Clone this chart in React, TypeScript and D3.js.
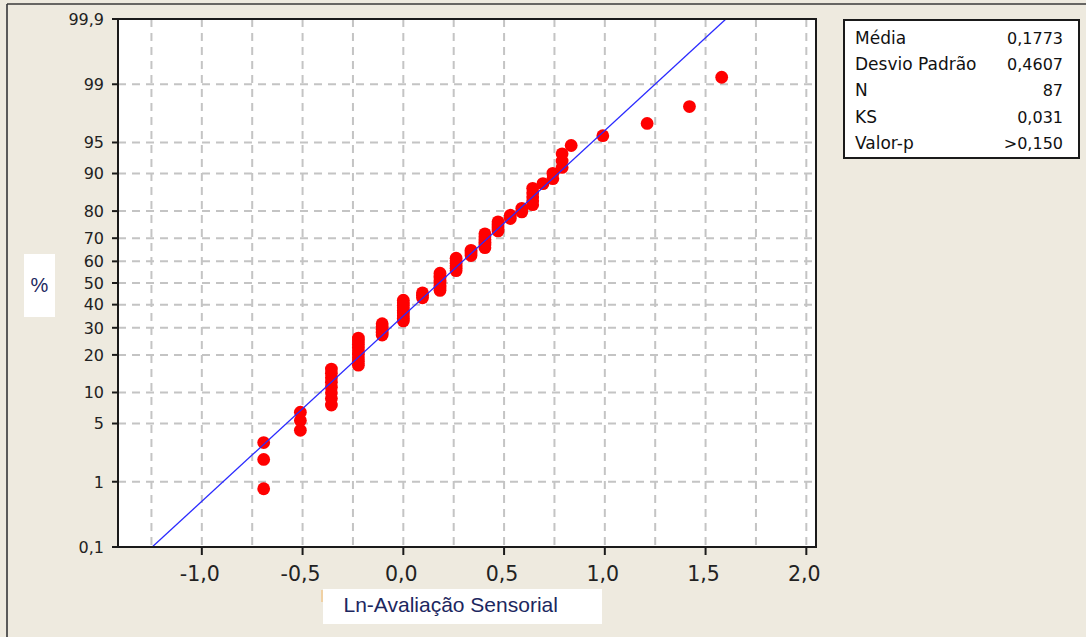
import React from "react";
import * as d3 from "d3";

// Distinct observed values (Ln of sensory score) and how many observations share each
const obsValues = [-0.693, -0.511, -0.357, -0.223, -0.105, 0, 0.095, 0.182, 0.262, 0.336, 0.405, 0.47, 0.531, 0.588, 0.642, 0.693, 0.742, 0.788, 0.833, 0.99, 1.21, 1.42, 1.58];
const obsCounts = [3, 3, 8, 9, 5, 9, 3, 8, 6, 3, 6, 4, 2, 2, 5, 1, 2, 3, 1, 1, 1, 1, 1];

const xTicks = [-1.0, -0.5, 0.0, 0.5, 1.0, 1.5, 2.0];
const xTickLabels = ["-1,0", "-0,5", "0,0", "0,5", "1,0", "1,5", "2,0"];
const xGrid = [-1.25, -1.0, -0.75, -0.5, -0.25, 0, 0.25, 0.5, 0.75, 1.0, 1.25, 1.5, 1.75, 2.0];
const yTicks = [0.1, 1, 5, 10, 20, 30, 40, 50, 60, 70, 80, 90, 95, 99, 99.9];
const yTickLabels = ["0,1", "1", "5", "10", "20", "30", "40", "50", "60", "70", "80", "90", "95", "99", "99,9"];

const statLabels = ["Média", "Desvio Padrão", "N", "KS", "Valor-p"];
const statValues = ["0,1773", "0,4607", "87", "0,031", ">0,150"];
const fitMean = 0.1773;
const fitSd = 0.4607;

// inverse standard normal CDF (Acklam)
function normInv(p: number): number {
  const a = [-3.969683028665376e1, 2.209460984245205e2, -2.759285104469687e2, 1.38357751867269e2, -3.066479806614716e1, 2.506628277459239];
  const b = [-5.447609879822406e1, 1.615858368580409e2, -1.556989798598866e2, 6.680131188771972e1, -1.328068155288572e1];
  const c = [-7.784894002430293e-3, -3.223964580411365e-1, -2.400758277161838, -2.549732539343734, 4.374664141464968, 2.938163982698783];
  const dd = [7.784695709041462e-3, 3.224671290700398e-1, 2.445134137142996, 3.754408661907416];
  const pl = 0.02425;
  if (p < pl) {
    const q = Math.sqrt(-2 * Math.log(p));
    return (((((c[0] * q + c[1]) * q + c[2]) * q + c[3]) * q + c[4]) * q + c[5]) / ((((dd[0] * q + dd[1]) * q + dd[2]) * q + dd[3]) * q + 1);
  }
  if (p > 1 - pl) {
    const q = Math.sqrt(-2 * Math.log(1 - p));
    return -(((((c[0] * q + c[1]) * q + c[2]) * q + c[3]) * q + c[4]) * q + c[5]) / ((((dd[0] * q + dd[1]) * q + dd[2]) * q + dd[3]) * q + 1);
  }
  const q = p - 0.5;
  const r = q * q;
  return (((((a[0] * r + a[1]) * r + a[2]) * r + a[3]) * r + a[4]) * r + a[5]) * q / (((((b[0] * r + b[1]) * r + b[2]) * r + b[3]) * r + b[4]) * r + 1);
}

const L = 118, T = 19, R = 816, B = 547;
const zMax = normInv(0.999);

export default function App() {
  const x = d3.scaleLinear().domain([-1.416, 2.048]).range([L, R]);
  const y = d3.scaleLinear().domain([-zMax, zMax]).range([B, T]);
  const yp = (pct: number) => y(normInv(pct / 100));

  // expand observations; plotting position = median rank (Benard)
  const obs: number[] = [];
  obsValues.forEach((v, k) => { for (let j = 0; j < obsCounts[k]; j++) obs.push(v); });
  const n = obs.length;
  const pts = obs.map((v, i) => ({ v, p: ((i + 1) - 0.3) / (n + 0.4) }));

  const lineGen = d3.line<number>().x((z) => x(fitMean + fitSd * z)).y((z) => y(z));
  const fitLine = lineGen([-zMax, zMax]);

  const grid = "#c4c4c4";
  const textFont = "'DejaVu Sans', Verdana, sans-serif";

  return (
    <svg width={1086} height={637} style={{ position: "absolute", left: 0, top: 0 }}>
      <defs>
        <clipPath id="plotclip"><rect x={L} y={T} width={R - L} height={B - T} /></clipPath>
      </defs>
      <rect x={0} y={0} width={1086} height={637} fill="#eeeadf" />
      <line x1={7} y1={4} x2={7} y2={637} stroke="#5a5a5a" strokeWidth={2} />
      <line x1={7} y1={4} x2={1086} y2={4} stroke="#3a3a3a" strokeWidth={1.5} />

      <rect x={L} y={T} width={R - L} height={B - T} fill="#ffffff" />
      {xGrid.map((g) => (
        <line key={"vx" + g} x1={x(g)} x2={x(g)} y1={T} y2={B} stroke={grid} strokeWidth={2} strokeDasharray="8,6" />
      ))}
      {yTicks.filter((t) => t > 0.1 && t < 99.9).map((t) => (
        <line key={"hy" + t} x1={L} x2={R} y1={yp(t)} y2={yp(t)} stroke={grid} strokeWidth={2} strokeDasharray="8,6" />
      ))}

      <g clipPath="url(#plotclip)">
        {pts.map((d, i) => (
          <circle key={i} cx={x(d.v)} cy={yp(d.p * 100)} r={6.4} fill="#ff0000" />
        ))}
        <path d={fitLine || ""} stroke="#2a2aff" strokeWidth={1.3} fill="none" />
      </g>

      <rect x={L} y={T} width={R - L} height={B - T} fill="none" stroke="#1a1a1a" strokeWidth={2} />

      {yTicks.map((t, i) => (
        <g key={"yt" + t}>
          <line x1={L - 6} x2={L} y1={yp(t)} y2={yp(t)} stroke="#1a1a1a" strokeWidth={2} />
          <text x={104} y={yp(t)} dy="0.36em" textAnchor="end" fontFamily={textFont} fontSize={16} fill="#222">{yTickLabels[i]}</text>
        </g>
      ))}
      {xTicks.map((t, i) => (
        <g key={"xt" + t}>
          <line x1={x(t)} x2={x(t)} y1={B} y2={B + 8} stroke="#1a1a1a" strokeWidth={2} />
          <text x={x(t) - 2} y={581} textAnchor="middle" fontFamily={textFont} fontSize={20.5} fill="#222">{xTickLabels[i]}</text>
        </g>
      ))}

      <rect x={24} y={254} width={31} height={63} fill="#ffffff" />
      <text x={39.5} y={292} textAnchor="middle" fontFamily="'Liberation Sans', Arial, sans-serif" fontSize={20} fill="#1c2760">%</text>

      <rect x={323} y={589} width={279} height={35} fill="#ffffff" />
      <line x1={322} x2={322} y1={590} y2={602} stroke="#f0c890" strokeWidth={1.5} />
      <text x={343.5} y={611.5} fontFamily="'Liberation Sans', Arial, sans-serif" fontSize={21} fill="#1c2760">Ln-Avaliação Sensorial</text>

      <rect x={844} y={20} width={235} height={138} fill="#ffffff" stroke="#1a1a1a" strokeWidth={2} />
      {statLabels.map((s, i) => (
        <g key={"st" + i}>
          <text x={855} y={44 + i * 26.2} fontFamily={textFont} fontSize={17} fill="#111">{s}</text>
          <text x={1063} y={44 + i * 26.2} textAnchor="end" fontFamily={textFont} fontSize={16} fill="#111">{statValues[i]}</text>
        </g>
      ))}
    </svg>
  );
}
